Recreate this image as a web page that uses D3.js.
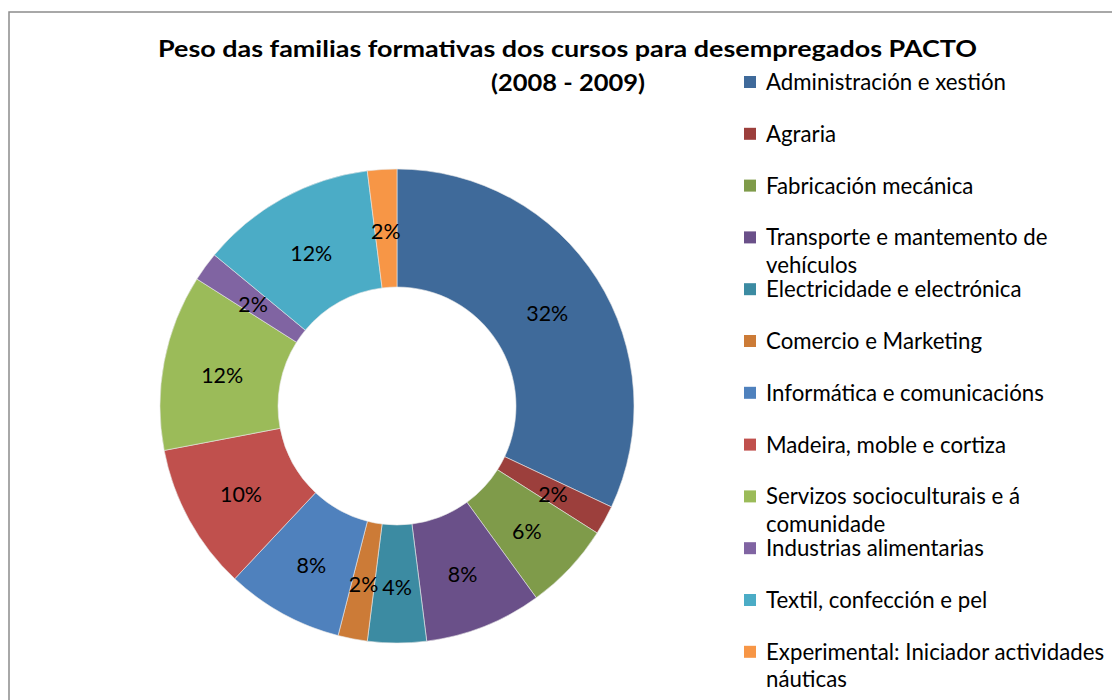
<!DOCTYPE html>
<html>
<head>
<meta charset="utf-8">
<script src="https://cdn.jsdelivr.net/npm/d3@7"></script>
<style>
    html, body { margin: 0; padding: 0; background: #fff; }
    svg { display: block; font-family: Lato, "Open Sans", sans-serif; }
</style>
</head>
<body>
<svg id="chart" width="1112" height="700"></svg>
<script>
// Chart data
const titleLines = ['Peso das familias formativas dos cursos para desempregados PACTO', '(2008 - 2009)'];
const categories = [
    'Administración e xestión',
    'Agraria',
    'Fabricación mecánica',
    'Transporte e mantemento  de vehículos',
    'Electricidade e electrónica',
    'Comercio e Marketing',
    'Informática e comunicacións',
    'Madeira, moble e cortiza',
    'Servizos socioculturais e á comunidade',
    'Industrias alimentarias',
    'Textil, confección e pel',
    'Experimental: Iniciador actividades náuticas'
];
const legendLines = [
    ['Administración e xestión'],
    ['Agraria'],
    ['Fabricación mecánica'],
    ['Transporte e mantemento  de', 'vehículos'],
    ['Electricidade e electrónica'],
    ['Comercio e Marketing'],
    ['Informática e comunicacións'],
    ['Madeira, moble e cortiza'],
    ['Servizos socioculturais e á', 'comunidade'],
    ['Industrias alimentarias'],
    ['Textil, confección e pel'],
    ['Experimental: Iniciador actividades', 'náuticas']
];
const shares = [32, 2, 6, 8, 4, 2, 8, 10, 12, 2, 12, 2];
const colors = ['#3F6A9A', '#9C3F3C', '#7F9B4A', '#6A5089', '#3C8BA2', '#CC7B37',
                '#4F81BD', '#C0504D', '#9BBB59', '#8064A2', '#4BACC6', '#F79646'];

const svg = d3.select('#chart');

// Outer frame (runs past the bottom/right of the picture)
svg.append('rect')
    .attr('x', 9).attr('y', 12)
    .attr('width', 1200).attr('height', 800)
    .attr('fill', '#fff')
    .attr('stroke', '#8c8c8c')
    .attr('stroke-width', 1.5);

// Scale a text element's font so its rendered width hits a target
function fitWidth(sel, target) {
    const node = sel.node();
    const base = parseFloat(sel.attr('font-size'));
    const w = node.getComputedTextLength();
    if (w > 0) sel.attr('font-size', (base * target / w).toFixed(2));
}

// Title — squeezed a little, the original face is narrower than Lato
svg.append('text')
    .attr('x', 158).attr('y', 57)
    .attr('font-weight', 'bold')
    .attr('font-size', 23.5)
    .attr('fill', '#000')
    .attr('textLength', 819)
    .attr('lengthAdjust', 'spacingAndGlyphs')
    .text(titleLines[0]);
svg.append('text')
    .attr('x', 491).attr('y', 91)
    .attr('font-weight', 'bold')
    .attr('font-size', 23.5)
    .attr('fill', '#000')
    .attr('textLength', 154)
    .attr('lengthAdjust', 'spacingAndGlyphs')
    .text(titleLines[1]);

// Donut
const cx = 397, cy = 406;
const rOuter = 237, rInner = 119;

const pie = d3.pie().sort(null).value(d => d);
const arcs = pie(shares);
const arc = d3.arc().innerRadius(rInner).outerRadius(rOuter);
const labelArc = d3.arc().innerRadius(178).outerRadius(178);

const g = svg.append('g').attr('transform', `translate(${cx},${cy})`);

g.selectAll('path.slice')
    .data(arcs)
    .join('path')
    .attr('class', 'slice')
    .attr('d', arc)
    .attr('fill', (d, i) => colors[i])
    .attr('stroke', '#e8e8e8')
    .attr('stroke-width', 0.6);

// Data labels
const fmtPct = d => `${d}%`;
const labels = g.selectAll('text.pct')
    .data(arcs)
    .join('text')
    .attr('class', 'pct')
    .attr('transform', d => `translate(${labelArc.centroid(d)})`)
    .attr('text-anchor', 'middle')
    .attr('dy', '0.5em')
    .attr('font-size', 20)
    .attr('fill', '#000')
    .text(d => fmtPct(d.data));
// Size the labels off the widest one ("32%" ~ 42px across)
const pctNode = labels.filter((d, i) => i === 0);
fitWidth(pctNode, 42);
labels.attr('font-size', pctNode.attr('font-size'));

// Legend
const legendX = 744, legendY0 = 90, legendStep = 51.8, wrapStep = 27.5;
const legend = svg.append('g').attr('class', 'legend');
const items = legend.selectAll('g.item')
    .data(legendLines)
    .join('g')
    .attr('class', 'item')
    .attr('transform', (d, i) => `translate(${legendX},${legendY0 + i * legendStep})`);

items.append('rect')
    .attr('x', 0).attr('y', -14)
    .attr('width', 12).attr('height', 12)
    .attr('fill', (d, i) => colors[i]);

const legendText = items.append('text')
    .attr('x', 22)
    .attr('font-size', 20)
    .attr('fill', '#000');
legendText.selectAll('tspan')
    .data(d => d)
    .join('tspan')
    .attr('x', 22)
    .attr('y', (d, j) => j * wrapStep)
    .text(d => d);

// Match the width of the first legend entry (~240px)
const firstLegend = legendText.filter((d, i) => i === 0);
fitWidth(firstLegend, 240);
legendText.attr('font-size', firstLegend.attr('font-size'));
</script>
</body>
</html>
